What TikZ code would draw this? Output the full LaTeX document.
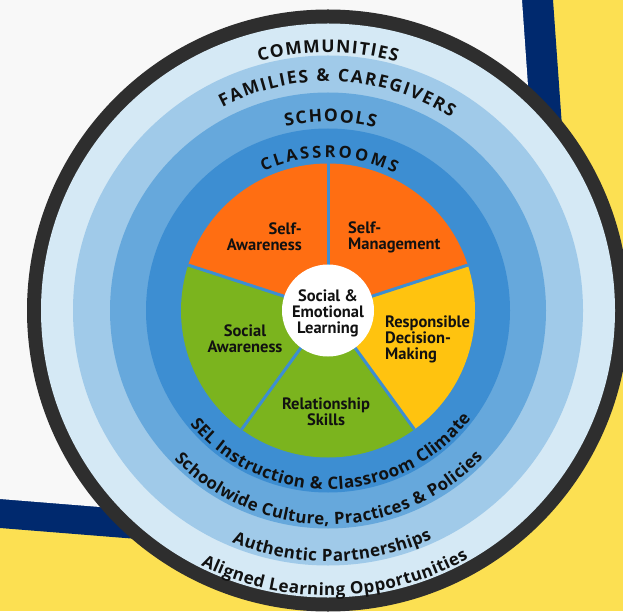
\documentclass[tikz,border=0pt]{standalone}
\usepackage{fontspec}
\usetikzlibrary{decorations.text}
\newfontfamily\osfam{Open Sans}
\newfontfamily\ptfam{PT Sans}
\newcommand\rgfont[1]{\osfam\bfseries\fontsize{#1}{20}\selectfont}
\newcommand\pzfont{\ptfam\bfseries\fontsize{16.5}{16}\selectfont}
\definecolor{bgyellow}{HTML}{FCE052}
\definecolor{bgnavy}{HTML}{00296E}
\definecolor{bggray}{HTML}{F8F8F8}
\definecolor{rimdark}{HTML}{2E2E2E}
\definecolor{ringA}{HTML}{D5E9F5}
\definecolor{ringB}{HTML}{A0CAE9}
\definecolor{ringC}{HTML}{66A8DC}
\definecolor{ringD}{HTML}{3D8ED2}
\definecolor{selorange}{HTML}{FF6E12}
\definecolor{selgreen}{HTML}{7BB41E}
\definecolor{selgold}{HTML}{FFC30F}
\definecolor{inkdark}{HTML}{111111}
% text on an arc: #1 size, #2 text, #3 radius, #4 start angle, #5 end angle
\newcommand\arctext[5]{%
  \path[decorate, decoration={text along path, text={|\rgfont{#1}|#2},
    text color=inkdark, text align={fit to path}}]
    ([shift={(328,300.5)}]#4:#3) arc[start angle=#4, end angle=#5, radius=#3];}
\begin{document}
\begin{tikzpicture}[x=1pt,y=1pt,
  pielabel/.style={font=\pzfont, text=inkdark, inner sep=0pt},
  wedgeline/.style={draw=ringD, line width=3pt}]
\useasboundingbox (0,0) rectangle (623,611);
\clip (0,0) rectangle (623,611);
% background
\fill[bgyellow] (0,0) rectangle (623,611);
\fill[bgnavy] (0,611) -- (553,611) -- (585,161) -- (400,51) -- (0,83) -- cycle;
\fill[bggray] (0,611) -- (522,611) -- (552.8,171) -- (380,81.6) -- (0,112) -- cycle;
% rings
\coordinate (c) at (328,300.5);
\fill[rimdark] (c) circle[radius=301];
\fill[ringA] (c) circle[radius=287];
\fill[ringB] (c) circle[radius=255];
\fill[ringC] (c) circle[radius=218];
\fill[ringD] (c) circle[radius=182];
% wedges
\fill[selorange] (c) -- ++(90:147) arc[start angle=90, end angle=162, radius=147] -- cycle;
\fill[selorange] (c) -- ++(18:147) arc[start angle=18, end angle=90, radius=147] -- cycle;
\fill[selgold] (c) -- ++(-54:147) arc[start angle=-54, end angle=18, radius=147] -- cycle;
\fill[selgreen] (c) -- ++(234:147) arc[start angle=234, end angle=306, radius=147] -- cycle;
\fill[selgreen] (c) -- ++(162:147) arc[start angle=162, end angle=234, radius=147] -- cycle;
\foreach \a in {18,90,162,234,306} \draw[wedgeline] (c) -- ++(\a:147);
\node[circle, fill=white, minimum size=92pt, inner sep=0pt] (core) at (c) {};
% pie labels
\node[pielabel, align=center] (sel) at (328,298) {Social \&\\Emotional\\Learning};
\node[pielabel, align=right, anchor=east] (saw) at (302,374) {Self-\\Awareness};
\node[pielabel, align=left, anchor=west] (smg) at (348,374) {Self-\\Management};
\node[pielabel, align=center] (soc) at (245,272) {Social\\Awareness};
\node[pielabel, align=left, anchor=west] (rdm) at (385,272) {Responsible\\Decision-\\Making};
\node[pielabel, align=center] (rel) at (326,199) {Relationship\\Skills};
% ring labels (top)
\arctext{17.5}{COMMUNITIES}{258}{105.5}{74.5}
\arctext{17.5}{FAMILIES {\&} CAREGIVERS}{229}{117.5}{57.5}
\arctext{17.5}{SCHOOLS}{188.5}{103}{75.5}
\arctext{16.5}{CLASSROOMS}{153}{115}{64}
% ring labels (bottom)
\arctext{17}{SEL Instruction {\&} Classroom Climate}{179}{219.5}{323}
\arctext{16.8}{Schoolwide Culture, Practices {\&} Policies}{214}{224}{316.5}
\arctext{17}{Authentic Partnerships}{251}{247.5}{294.5}
\arctext{17}{Aligned Learning Opportunities}{285}{243.5}{299.5}
\end{tikzpicture}
\end{document}
